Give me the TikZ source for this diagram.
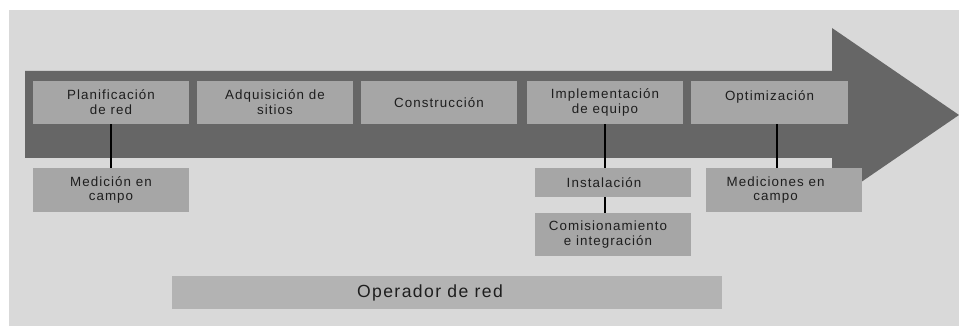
\documentclass[tikz,border=0pt]{standalone}
\usepackage{fontspec}
\setmainfont{Liberation Sans}[LetterSpace=8]
\definecolor{fondo}{HTML}{D9D9D9}
\definecolor{flecha}{HTML}{666666}
\definecolor{caja}{HTML}{A6A6A6}
\definecolor{cajaop}{HTML}{B3B3B3}
\definecolor{texto}{HTML}{1E1E1E}
% centred text, pushed left by half of #1
\newcommand{\boxtext}[2]{\parbox{3.3cm}{\centering #2}\rule{#1}{0pt}}
\tikzset{
	etapa/.style={fill=caja, text=texto, minimum width=3.9cm, minimum height=1.075cm, inner sep=0pt, font=\fontsize{9.5}{10.5}\selectfont},
	subetapa/.style={etapa, minimum height=#1},
	enlace/.style={draw=black, line width=1pt}
}
\begin{document}
\begin{tikzpicture}[x=0.025cm, y=-0.025cm]
	\useasboundingbox (0,0) rectangle (959,326);
	\fill[fondo] (9,10) rectangle (959,326);
	
	% the big arrow
	\fill[flecha] (25,71) -- (832,71) -- (832,28) -- (959,115) -- (832,202) -- (832,158) -- (25,158) -- cycle;
	
	\node[etapa] (plan) at (111,102.5) {\boxtext{0pt}{Planificación\\de red}};
	\node[etapa] (adq) at (275,102.5) {\boxtext{0pt}{Adquisición de\\sitios}};
	\node[etapa] (cons) at (439,102.5) {\boxtext{0pt}{Construcción}};
	\node[etapa] (impl) at (605,102.5) {\boxtext{0pt}{Implementación\\de equipo}};
	\node[etapa] (opt) at (769.5,102.5) {\boxtext{0pt}{Optimización\\\mbox{}}};
	
	\node[etapa] (med) at (111,190) {\boxtext{0pt}{Medición en\\campo}};
	\node[subetapa=0.725cm] (inst) at (613,182.5) {\boxtext{0.45cm}{Instalación}};
	\node[etapa] (comi) at (613,234.5) {\boxtext{0.25cm}{Comisionamiento\\e integración}};
	\node[etapa] (medc) at (784,190) {\boxtext{0.42cm}{Mediciones en\\campo}};
	
	\node[fill=cajaop, text=texto, minimum width=13.75cm, minimum height=0.825cm, inner sep=0pt, font=\fontsize{12.5}{14}\selectfont] (oper) at (447,292.5) {\parbox{8cm}{\centering Operador de red}\rule{0.85cm}{0pt}};
	
	\draw[enlace] (plan) -- (med);
	\draw[enlace] (impl.south) -- (impl.south |- inst.north);
	\draw[enlace] (impl.south |- inst.south) -- (impl.south |- comi.north);
	\draw[enlace] ([xshift=0.19cm]opt.south) -- ([xshift=0.19cm]opt.south |- medc.north);
\end{tikzpicture}
\end{document}
